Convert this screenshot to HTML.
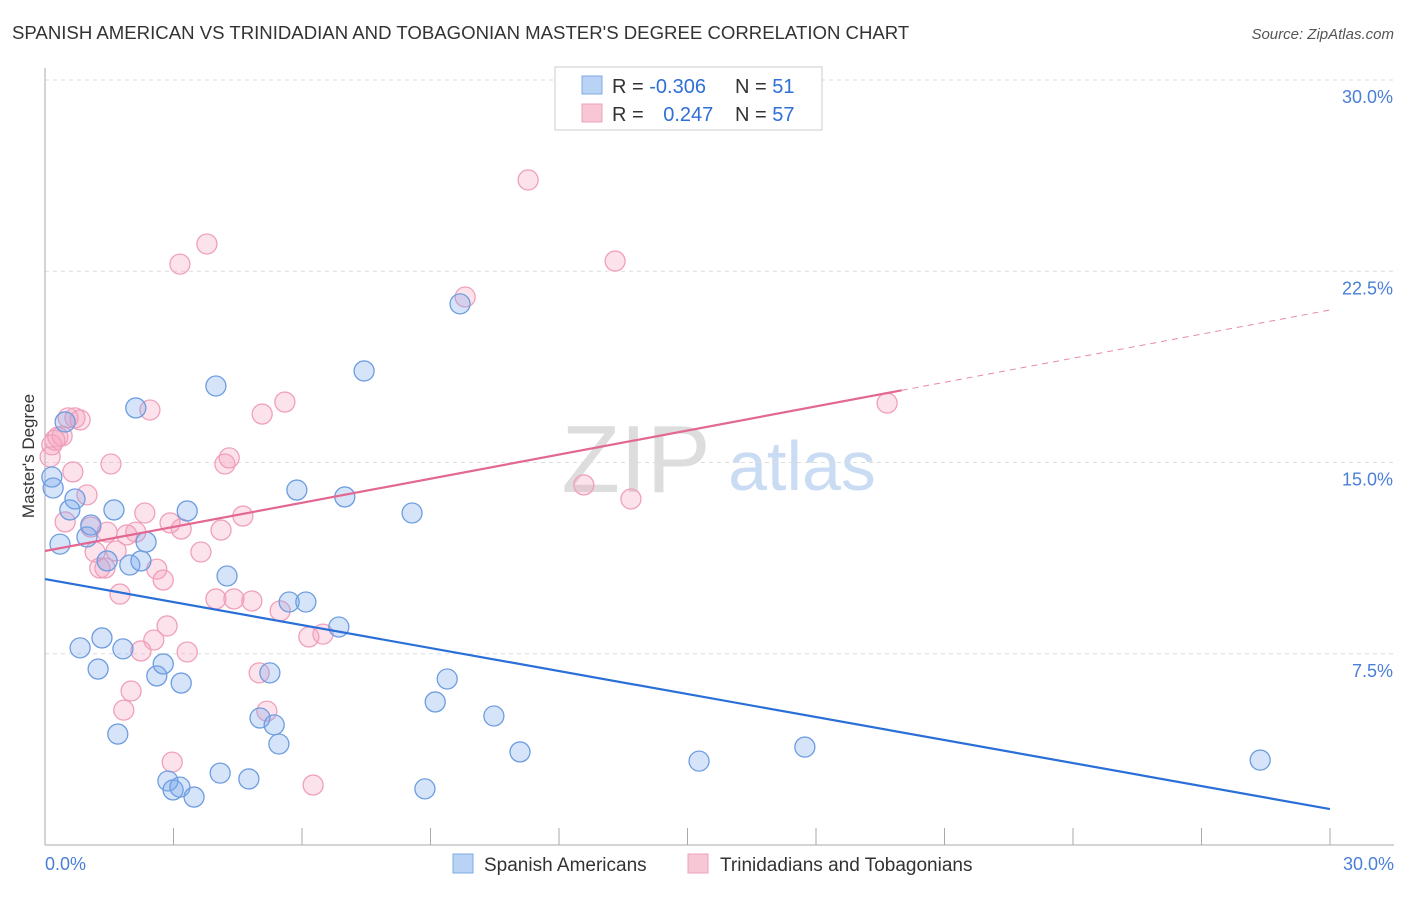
<!DOCTYPE html>
<html><head><meta charset="utf-8"><style>
body{margin:0;background:#fff;font-family:"Liberation Sans",sans-serif;}
svg text{font-family:"Liberation Sans",sans-serif;}
</style></head><body>
<svg id="chart" width="1406" height="892">
<text x="12" y="39" font-size="18.6" fill="#333">SPANISH AMERICAN VS TRINIDADIAN AND TOBAGONIAN MASTER'S DEGREE CORRELATION CHART</text>
<text x="1394" y="39" font-size="15" fill="#555" font-style="italic" text-anchor="end">Source: ZipAtlas.com</text>
<text x="34" y="456" font-size="17" fill="#333" text-anchor="middle" transform="rotate(-90 34 456)">Master's Degree</text>
<g><text x="636" y="492" font-size="96" fill="#ddd" font-family="Liberation Serif" text-anchor="middle">ZIP</text><text x="802" y="490" font-size="70" fill="#c9dcf3" text-anchor="middle">atlas</text></g>
<g id="grid"></g><g id="marks"></g><g id="lines"></g>
<g>
<rect x="555" y="67" width="267" height="63" fill="#fff" stroke="#ccc"/>
<rect x="582" y="76" width="20" height="18" fill="#b9d3f5" stroke="#7fa9e6"/>
<rect x="582" y="104" width="20" height="18" fill="#f8c7d6" stroke="#f0a0bb"/>
<text x="612" y="93" font-size="20" fill="#333">R = <tspan fill="#2f6fd6">-0.306</tspan></text>
<text x="735" y="93" font-size="20" fill="#333">N = <tspan fill="#2f6fd6">51</tspan></text>
<text x="612" y="121" font-size="20" fill="#333">R = <tspan fill="#2f6fd6" dx="14">0.247</tspan></text>
<text x="735" y="121" font-size="20" fill="#333">N = <tspan fill="#2f6fd6">57</tspan></text>
</g>
<g>
<rect x="453" y="854" width="20" height="19" fill="#b9d3f5" stroke="#7fa9e6"/>
<text x="484" y="871" font-size="19" fill="#333">Spanish Americans</text>
<rect x="688" y="854" width="20" height="19" fill="#f8c7d6" stroke="#f0a0bb"/>
<text x="720" y="871" font-size="19" fill="#333">Trinidadians and Tobagonians</text>
</g>
</svg>
<script>
const blueX=[0.16,0.19,0.47,0.58,0.70,0.35,0.98,1.07,1.45,1.61,1.98,2.36,2.24,2.12,3.32,3.99,4.25,0.82,1.24,1.33,1.82,2.61,2.76,3.18,1.70,2.87,2.99,3.15,3.48,4.09,4.76,5.02,5.35,5.46,5.25,5.70,6.09,6.86,5.88,7.00,7.45,8.57,9.69,9.39,9.11,10.48,11.09,8.87,15.27,17.74,28.37];
const blueY=[14.43,14.0,16.59,13.14,13.57,11.80,12.08,12.55,11.14,13.14,10.98,11.88,11.14,17.14,13.10,18.0,10.55,7.73,6.90,8.12,7.69,6.63,7.10,6.35,4.35,2.51,2.16,2.27,1.88,2.82,2.59,4.98,4.71,3.96,6.75,9.53,9.53,8.55,13.92,13.65,18.59,13.02,21.22,6.51,5.61,5.06,3.65,2.20,3.29,3.84,3.33];
const pinkX=[0.12,0.16,0.23,0.30,0.40,0.54,0.70,0.82,0.65,0.98,0.47,1.07,1.17,1.28,1.40,1.66,1.54,1.75,1.45,1.91,2.12,2.33,2.45,2.61,2.76,2.85,2.54,2.24,2.01,1.84,2.97,3.32,3.18,2.92,3.64,3.15,3.78,3.99,4.11,4.20,4.30,4.41,4.62,4.83,5.07,5.00,5.18,5.49,5.60,6.16,6.49,6.26,11.28,9.81,13.31,12.58,13.68,19.66];
const pinkY=[15.22,15.69,15.88,16.0,16.04,16.75,16.75,16.67,14.63,13.73,12.67,12.47,11.49,10.86,10.86,11.53,14.94,9.84,12.27,12.16,12.27,13.02,17.06,10.82,10.39,8.59,8.04,7.61,6.04,5.29,3.25,7.57,12.39,12.63,11.49,22.78,23.57,9.65,12.35,14.94,15.18,9.65,12.90,9.57,16.90,6.75,5.25,9.18,17.37,8.16,8.27,2.35,26.08,21.49,22.90,14.12,13.57,17.33];
const blueTrend=[10.43,-0.3007];
const pinkTrend=[11.53,0.315];
const yTicks=[7.5,15.0,22.5,30.0];
const yTickLabels=["7.5%","15.0%","22.5%","30.0%"];
const xTicks=[0,3,6,9,12,15,18,21,24,27,30];
const NS='http://www.w3.org/2000/svg';
const X=v=>45+v*1285/30, Y=v=>845-v*765/30;
function mk(tag,attrs,parent){const e=document.createElementNS(NS,tag);for(const k in attrs)e.setAttribute(k,attrs[k]);parent.appendChild(e);return e;}
const grid=document.getElementById('grid'),marks=document.getElementById('marks'),lines=document.getElementById('lines');
yTicks.forEach((t,i)=>{
 const l=mk('line',{x1:45,x2:1394,y1:Y(t),y2:Y(t),stroke:'#ddd','stroke-dasharray':'4,4'},grid);
 
 
 const tx=mk('text',{x:1393,y:Y(t)+23,'font-size':18,fill:'#4a7fd8','text-anchor':'end'},grid);
 tx.textContent=yTickLabels[i];
 
 
});
const ya=mk('line',{x1:45,x2:45,y1:68,y2:845,stroke:'#aaa'},grid);


const xa=mk('line',{x1:45,x2:1394,y1:845,y2:845,stroke:'#aaa'},grid);


xTicks.forEach(t=>{const l=mk('line',{x1:X(t),x2:X(t),y1:828,y2:845,stroke:'#aaa'},grid);
 
 });
[[0,'0.0%','start',45],[30,'30.0%','end',1394]].forEach(a=>{const tx=mk('text',{x:a[3],y:870,'font-size':18,fill:'#4a7fd8','text-anchor':a[2]},grid);tx.textContent=a[1];
 
 });
pinkX.forEach((x,i)=>{const c=mk('circle',{cx:X(x),cy:Y(pinkY[i]),r:10,fill:'rgba(244,160,188,0.3)',stroke:'#f0a0bb','stroke-width':1.3},marks);
 
 });
blueX.forEach((x,i)=>{const c=mk('circle',{cx:X(x),cy:Y(blueY[i]),r:10,fill:'rgba(120,165,235,0.3)',stroke:'#6d9de0','stroke-width':1.3},marks);
 
 });
const bl=mk('line',{x1:X(0),y1:Y(blueTrend[0]),x2:X(30),y2:Y(blueTrend[0]+30*blueTrend[1]),stroke:'#2a6fd8','stroke-width':2.2},lines);


const pe=20;
const pl=mk('line',{x1:X(0),y1:Y(pinkTrend[0]),x2:X(pe),y2:Y(pinkTrend[0]+pe*pinkTrend[1]),stroke:'#e26892','stroke-width':2.2},lines);


const pd=mk('line',{x1:X(pe),y1:Y(pinkTrend[0]+pe*pinkTrend[1]),x2:X(30),y2:Y(pinkTrend[0]+30*pinkTrend[1]),stroke:'#e68aa8','stroke-width':1,'stroke-dasharray':'6,5'},lines);


</script>
</body></html>
